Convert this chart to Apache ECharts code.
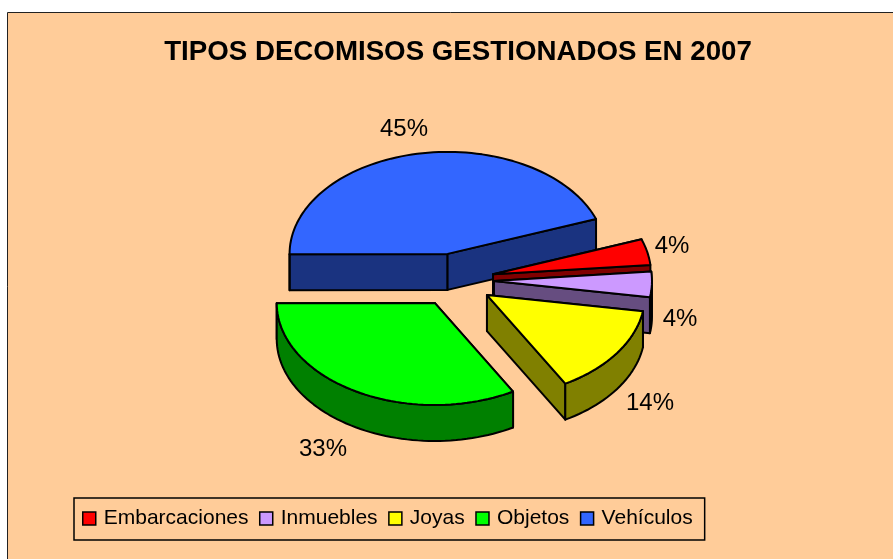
<!DOCTYPE html>
<html>
<head>
<meta charset="utf-8">
<title>Tipos decomisos</title>
<script src="https://cdn.jsdelivr.net/npm/echarts@6/dist/echarts.min.js"></script>
<style>
    html, body { margin: 0; padding: 0; background: #fff; }
    #chart { width: 893px; height: 559px; }
</style>
</head>
<body>
<div id="chart"></div>
<script>
let categories = ["Embarcaciones", "Inmuebles", "Joyas", "Objetos", "Vehículos"];
let values = [4.1, 4.0, 14.2, 33.2, 44.5];
let topColours = ["#FF0000", "#CC99FF", "#FFFF00", "#00FF00", "#3366FF"];
let sideColours = ["#800000", "#664D80", "#808000", "#008000", "#1A3380"];

// where the percent labels sit
let labelCentres = [[672, 246], [680, 319], [650, 403], [323, 449], [404, 129]];

// the 3d look: squashed ellipse, pulled apart slices, fixed wall height
const startAngle = 70;
const centre = [454.5, 280];
const rx = 158;
const ry = 102;
const explodeX = 0.25;
const explodeY = 0.26;
const depth = 36;

let total = values.reduce((a, b) => a + b, 0);

function point(ax, ay, angle)
{
    let r = angle * Math.PI / 180;
    return [ax + rx * Math.sin(r), ay - ry * Math.cos(r)];
}

function arc(ax, ay, from, to)
{
    let pts = [];
    let steps = Math.max(2, Math.ceil((to - from) / 2));
    for (let i = 0; i <= steps; i++)
    {
        pts.push(point(ax, ay, from + (to - from) * i / steps));
    }
    return pts;
}

function polygon(points, fill)
{
    return {
        type: 'polygon',
        shape: { points: points },
        style: { fill: fill, stroke: '#000', lineWidth: 2, lineJoin: 'round' }
    };
}

// returns the drawing function of one slice, angles come from the values
function slice_renderer(index)
{
    return function (params, api) {
        let before = 0;
        for (let i = 0; i < index; i++) before += values[i];

        let value = api.value(0);
        let from = startAngle + before / total * 360;
        let to = from + value / total * 360;
        let mid = (from + to) / 2 * Math.PI / 180;

        let ax = centre[0] + explodeX * rx * Math.sin(mid);
        let ay = centre[1] - explodeY * ry * Math.cos(mid);

        let side = sideColours[index];
        let children = [];

        // radial walls
        [from, to].forEach(angle => {
            let p = point(ax, ay, angle);
            children.push(polygon([[ax, ay], p, [p[0], p[1] + depth], [ax, ay + depth]], side));
        });

        // outer wall, only the part that faces us
        let wallFrom = Math.max(from, 90);
        let wallTo = Math.min(to, 270);
        if (wallTo > wallFrom)
        {
            let upper = arc(ax, ay, wallFrom, wallTo);
            let lower = upper.map(p => [p[0], p[1] + depth]).reverse();
            children.push(polygon(upper.concat(lower), side));
        }

        // top face
        children.push(polygon([[ax, ay]].concat(arc(ax, ay, from, to)), topColours[index]));

        children.push({
            type: 'text',
            style: {
                x: labelCentres[index][0],
                y: labelCentres[index][1],
                text: Math.round(value / total * 100) + '%',
                fill: '#000',
                font: '24px "Liberation Sans"',
                align: 'center',
                verticalAlign: 'middle'
            }
        });

        return { type: 'group', children: children };
    };
}

// vehiculos goes at the back, the others are drawn in order over it
let series = categories.map((name, i) => {
    return {
        name: name,
        type: 'custom',
        coordinateSystem: 'none',
        silent: true,
        itemStyle: { color: topColours[i] },
        renderItem: slice_renderer(i),
        data: [[values[i]]],
        z: i === 4 ? 1 : i + 2
    };
});

var myChart = echarts.init(document.getElementById("chart"));

let option = {
    backgroundColor: '#fff',
    animation: false,
    title: {
        text: 'TIPOS DECOMISOS GESTIONADOS EN 2007',
        left: 453,
        top: 33,
        textAlign: 'center',
        textStyle: {
            fontFamily: 'Liberation Sans',
            fontSize: 27.7,
            fontWeight: 'bold',
            color: '#000'
        }
    },
    legend: {
        data: categories,
        left: 74,
        top: 498,
        orient: 'horizontal',
        icon: 'rect',
        itemWidth: 13,
        itemHeight: 13,
        itemGap: 10.5,
        padding: [10, 12, 11, 8],
        borderColor: '#000',
        borderWidth: 1.5,
        itemStyle: { borderColor: '#000', borderWidth: 1.5 },
        textStyle: {
            fontFamily: 'Liberation Sans',
            fontSize: 21,
            color: '#000',
            padding: [0, 0, 0, 3]
        },
        selectedMode: false
    },
    graphic: [{
        type: 'rect',
        z: -10,
        silent: true,
        shape: { x: 7.5, y: 12.5, width: 890, height: 550 },
        style: { fill: '#FFCC99', stroke: '#222', lineWidth: 1 }
    }],
    series: series
};

myChart.setOption(option);
</script>
</body>
</html>
